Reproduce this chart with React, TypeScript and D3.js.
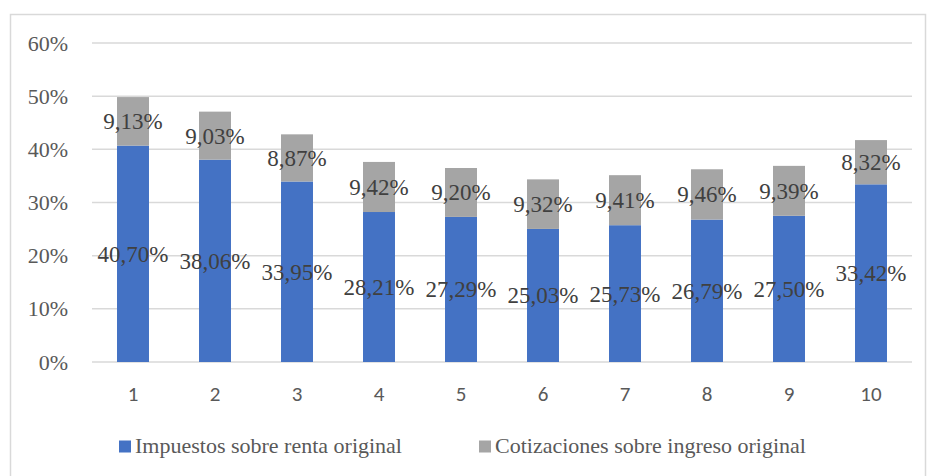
import * as d3 from 'd3'

const W = 927, H = 476
const M = { top: 43, right: 15, bottom: 114, left: 92 }

const categories = ['1', '2', '3', '4', '5', '6', '7', '8', '9', '10']
const impuestos = [40.70, 38.06, 33.95, 28.21, 27.29, 25.03, 25.73, 26.79, 27.50, 33.42]
const cotizaciones = [9.13, 9.03, 8.87, 9.42, 9.20, 9.32, 9.41, 9.46, 9.39, 8.32]
const yTicks = [0, 10, 20, 30, 40, 50, 60]

const series = [
  { key: 'imp', label: 'Impuestos sobre renta original', color: '#4472C4', values: impuestos },
  { key: 'cot', label: 'Cotizaciones sobre ingreso original', color: '#A5A5A5', values: cotizaciones },
]

const fmt = (v: number) => v.toFixed(2).replace('.', ',') + '%'

const serif = (size: number, color: string) => ({ fontFamily: "'Liberation Serif'", fontSize: size, fill: color })

export default function App() {
  const iw = W - M.left - M.right
  const ih = H - M.top - M.bottom

  const x = d3.scaleBand().domain(categories).range([0, iw]).paddingInner(0.61).paddingOuter(0.305)
  const y = d3.scaleLinear().domain([0, 60]).range([ih, 0])

  const stacked = d3.stack<number>()
    .keys(series.map((_, i) => String(i)))
    .value((i, k) => series[+k].values[i])(categories.map((_, i) => i))

  const legendX = [119, 479]

  return (
    <div style={{ position: 'absolute', left: 0, top: 0 }}>
      <svg width={W} height={H}>
        {/* chart border */}
        <rect x={10.5} y={14.5} width={W - 12} height={H} fill="none" stroke="#D9D9D9" strokeWidth={1.5} />

        <g transform={`translate(${M.left},${M.top})`}>
          {/* gridlines + y labels */}
          {yTicks.map(t => (
            <line key={t} x1={0} x2={iw} y1={y(t)} y2={y(t)} stroke="#D9D9D9" strokeWidth={1.5} />
          ))}
          {yTicks.map(t => (
            <text key={t} x={-24} y={y(t) + 7.5} textAnchor="end" style={serif(22, '#595959')}>{`${t}%`}</text>
          ))}

          {/* x labels */}
          {categories.map(c => (
            <text key={c} x={x(c)! + x.bandwidth() / 2} y={ih + 39} textAnchor="middle"
              style={{ fontFamily: "'Carlito'", fontSize: 21, fill: '#595959' }}>{c}</text>
          ))}

          {stacked.map((layer, si) => {
            const s = series[si]
            return (
              <g key={s.key}>
                {layer.map(d => (
                  <rect key={d.data} x={x(categories[d.data])!} width={x.bandwidth()}
                    y={y(d[1])} height={y(d[0]) - y(d[1])} fill={s.color} />
                ))}
              </g>
            )
          })}
          {stacked.map((layer, si) => {
            const s = series[si]
            return (
              <g key={s.key + '-lbl'}>
                {layer.map(d => (
                  <text key={d.data} x={x(categories[d.data])! + x.bandwidth() / 2}
                    y={y((d[0] + d[1]) / 2) + 8} textAnchor="middle"
                    style={serif(23, '#404040')}>{fmt(s.values[d.data])}</text>
                ))}
              </g>
            )
          })}
        </g>

        {/* legend */}
        {series.map((s, i) => (
          <g key={s.key} transform={`translate(${legendX[i]},446)`}>
            <rect x={0} y={-5.5} width={12} height={12} fill={s.color} />
            <text x={16} y={7} style={serif(22, '#595959')}>{s.label}</text>
          </g>
        ))}
      </svg>
    </div>
  )
}
